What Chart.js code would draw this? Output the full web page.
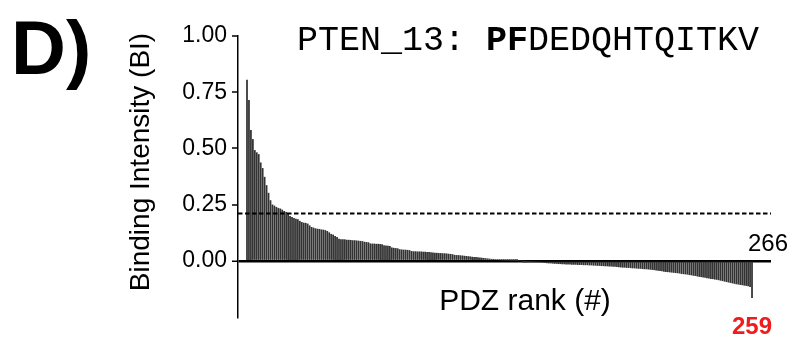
<!DOCTYPE html>
<html>
<head>
<meta charset="utf-8">
<script src="https://cdn.jsdelivr.net/npm/chart.js@4.4.0/dist/chart.umd.min.js"></script>
<style>
  body { margin: 0; background: #fff; }
  #wrap { width: 791px; height: 338px; position: relative; }
</style>
</head>
<body>
<div id="wrap"><canvas id="rankChart"></canvas></div>
<script>
// PTEN_13 binding intensity per PDZ domain, sorted by rank
const panelLabel = "D)";
const peptideName = "PTEN_13: ";
const peptideBold = "PF";
const peptideRest = "DEDQHTQITKV";
const totalPdz = 266;
const highlightRank = 259;
const cutoff = 0.21;
const yTicks = [0, 0.25, 0.5, 0.75, 1.0];

const bindingIntensity = [
  0.804, 0.714, 0.580, 0.540, 0.491, 0.481, 0.473, 0.436, 0.411, 0.372,
  0.335, 0.301, 0.268, 0.249, 0.244, 0.238, 0.234, 0.231, 0.226, 0.220,
  0.216, 0.208, 0.198, 0.193, 0.189, 0.186, 0.183, 0.176, 0.171, 0.168,
  0.167, 0.164, 0.156, 0.149, 0.146, 0.143, 0.141, 0.140, 0.138, 0.137,
  0.135, 0.131, 0.125, 0.118, 0.115, 0.109, 0.104, 0.097, 0.094, 0.094,
  0.094, 0.092,
  0.092, 0.091, 0.090, 0.090, 0.089, 0.088, 0.087, 0.086,
  0.083, 0.082, 0.081,
  0.076, 0.075, 0.075, 0.074, 0.074, 0.073, 0.072,
  0.068, 0.067, 0.066, 0.064,
  0.058, 0.056, 0.055, 0.054,
  0.050, 0.049, 0.048, 0.048, 0.047, 0.046,
  0.042, 0.041, 0.041, 0.040, 0.040, 0.040, 0.039, 0.039, 0.038, 0.038, 0.037, 0.036,
  0.034, 0.034, 0.033, 0.033, 0.032, 0.032, 0.031, 0.030, 0.029, 0.028,
  0.025, 0.024, 0.024, 0.023, 0.022, 0.021, 0.020, 0.019, 0.018,
  0.016, 0.015, 0.015, 0.014, 0.013, 0.012, 0.011, 0.010, 0.009,
  0.008, 0.007, 0.007, 0.006, 0.005, 0.004, 0.004, 0.003,
  0.002, 0.002, 0.002, 0.001, 0.001, 0.001, 0.001, 0.000, 0.000, -0.001, -0.001, -0.002,
  -0.003, -0.003, -0.004, -0.004, -0.005, -0.005, -0.006, -0.007, -0.008, -0.009,
  -0.010, -0.010, -0.011, -0.012, -0.012, -0.013, -0.013,
  -0.014, -0.014, -0.015, -0.015, -0.015, -0.016, -0.016, -0.016, -0.017, -0.017,
  -0.017, -0.018, -0.018, -0.018,
  -0.019, -0.019, -0.020, -0.020, -0.021, -0.021, -0.022, -0.022, -0.023, -0.023,
  -0.024, -0.024, -0.025, -0.025, -0.026, -0.027, -0.028,
  -0.029, -0.029, -0.030, -0.030, -0.031, -0.032, -0.032, -0.033, -0.034, -0.034,
  -0.035, -0.036, -0.036, -0.037, -0.038, -0.039, -0.040,
  -0.042, -0.043, -0.044, -0.045, -0.047, -0.048, -0.049, -0.050,
  -0.051, -0.052, -0.053, -0.054, -0.055, -0.057, -0.058, -0.059, -0.060, -0.062,
  -0.063, -0.065, -0.066, -0.068, -0.070,
  -0.071, -0.073, -0.074, -0.076, -0.077, -0.079, -0.080, -0.082, -0.083, -0.085,
  -0.087, -0.089, -0.091, -0.093, -0.095, -0.097,
  -0.099, -0.101, -0.103, -0.104, -0.106, -0.107, -0.109, -0.110, -0.112, -0.115,
  -0.164
];

const sans = "'Liberation Sans', Arial, sans-serif";
const mono = "'Liberation Mono', 'Courier New', monospace";

// rank on x, intensity on y
const barPoints = bindingIntensity.map((v, i) => ({ x: i + 1, y: v }));
const xMin = -3.6;
const xMax = 268.7;

// free text around the plot: panel letter, peptide, axis titles, counts
const textPlugin = {
  id: "panelText",
  afterDraw(chart) {
    const { ctx, chartArea, scales } = chart;
    ctx.save();
    ctx.fillStyle = "#000";
    ctx.textBaseline = "alphabetic";

    ctx.font = `bold 76px ${sans}`;
    ctx.textAlign = "left";
    ctx.fillText(panelLabel, 11, 74);

    ctx.font = `35px ${mono}`;
    let px = 297;
    ctx.fillText(peptideName, px, 50);
    px += ctx.measureText(peptideName).width;
    ctx.font = `bold 35px ${mono}`;
    ctx.fillText(peptideBold, px, 50);
    px += ctx.measureText(peptideBold).width;
    ctx.font = `35px ${mono}`;
    ctx.fillText(peptideRest, px, 50);

    ctx.font = `30px ${sans}`;
    ctx.textAlign = "center";
    ctx.fillText("PDZ rank (#)", 525, 310);

    ctx.font = `24px ${sans}`;
    ctx.textAlign = "right";
    ctx.fillText(String(totalPdz), chartArea.right + 17, 251);

    ctx.font = `bold 24px ${sans}`;
    ctx.textAlign = "center";
    ctx.fillStyle = "#ee1c1c";
    ctx.fillText(String(highlightRank), scales.x.getPixelForValue(highlightRank), 334);

    ctx.fillStyle = "#000";
    ctx.translate(141, 162);
    ctx.rotate(-Math.PI / 2);
    ctx.font = `28px ${sans}`;
    ctx.textBaseline = "middle";
    ctx.fillText("Binding Intensity (BI)", 0, 0);
    ctx.restore();
  }
};

new Chart(document.getElementById("rankChart"), {
  type: "bar",
  data: {
    datasets: [
      {
        type: "line",
        data: [{ x: xMin, y: cutoff }, { x: xMax, y: cutoff }],
        borderColor: "#000",
        borderWidth: 2,
        borderDash: [4.5, 2.5],
        pointRadius: 0,
        order: 0
      },
      {
        data: barPoints,
        backgroundColor: "#333",
        borderWidth: 0,
        barThickness: 1.1,
        order: 1
      }
    ]
  },
  options: {
    responsive: true,
    maintainAspectRatio: false,
    animation: false,
    layout: { padding: { left: 0, right: 20, top: 36, bottom: 21 } },
    plugins: {
      legend: { display: false },
      tooltip: { enabled: false }
    },
    scales: {
      x: {
        type: "linear",
        offset: false,
        min: xMin,
        max: xMax,
        display: false
      },
      y: {
        min: -0.25,
        max: 1.0,
        afterBuildTicks: scale => {
          scale.ticks = yTicks.map(v => ({ value: v }));
        },
        afterFit: scale => { scale.width = 238; },
        border: { display: true, color: "#000", width: 1.5 },
        grid: {
          color: c => (c.tick && c.tick.value === 0 ? "#000" : "rgba(0,0,0,0)"),
          lineWidth: c => (c.tick && c.tick.value === 0 ? 2.5 : 0),
          tickColor: "#000",
          tickWidth: 1.5,
          tickLength: 6
        },
        ticks: {
          color: "#000",
          padding: 5,
          font: { family: sans, size: 23 },
          callback: v => v.toFixed(2)
        }
      }
    }
  },
  plugins: [textPlugin]
});
</script>
</body>
</html>
